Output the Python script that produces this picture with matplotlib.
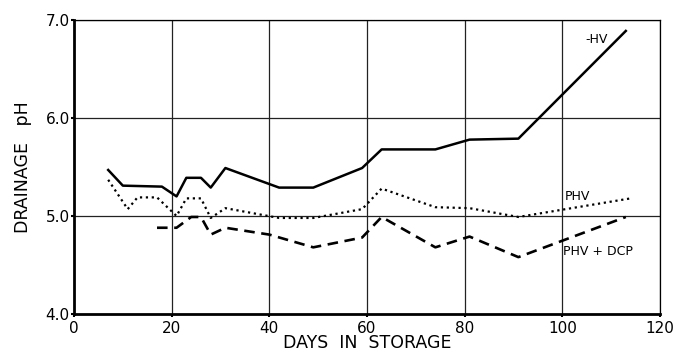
import matplotlib
matplotlib.use("Agg")
import matplotlib.pyplot as plt

# -HV (solid)
hv_days = [7, 10, 18, 21, 23, 26, 28, 31, 42, 49, 59, 63, 74, 81, 91, 113]
hv_ph = [5.47, 5.31, 5.30, 5.20, 5.39, 5.39, 5.29, 5.49, 5.29, 5.29, 5.49, 5.68, 5.68, 5.78, 5.79, 6.89]

# PHV (dotted)
phv_days = [7, 11, 13, 17, 21, 23, 26, 28, 31, 42, 49, 59, 63, 74, 81, 91, 114]
phv_ph = [5.37, 5.07, 5.19, 5.19, 5.00, 5.18, 5.18, 4.98, 5.08, 4.98, 4.98, 5.07, 5.28, 5.09, 5.08, 4.99, 5.18]

# PHV + DCP (dashed)
dcp_days = [17, 21, 24, 26, 28, 31, 40, 49, 59, 63, 74, 81, 91, 113]
dcp_ph = [4.88, 4.88, 4.99, 4.99, 4.81, 4.88, 4.81, 4.68, 4.78, 4.99, 4.68, 4.79, 4.58, 4.99]

x_ticks = [0, 20, 40, 60, 80, 100, 120]
y_ticks = [4.0, 5.0, 6.0, 7.0]

plt.rcParams["font.family"] = ["DejaVu Sans"]

fig = plt.figure(figsize=(6.79, 3.6), dpi=100)
ax = fig.add_axes([0.109, 0.128, 0.863, 0.816])

for x in x_ticks[1:]:
    ax.axvline(x, color="#222222", lw=0.9, zorder=1)
for y in y_ticks[1:]:
    ax.axhline(y, color="#222222", lw=0.9, zorder=1)

ax.plot(hv_days, hv_ph, "-", color="black", lw=1.8, zorder=3)
ax.plot(phv_days, phv_ph, ":", color="black", lw=1.6, zorder=3)
ax.plot(dcp_days, dcp_ph, "--", color="black", lw=1.9, dashes=(4, 2.5), zorder=3)

ax.text(107, 6.8, "-HV", fontsize=9, ha="center", va="center")
ax.text(103, 5.2, "PHV", fontsize=9, ha="center", va="center")
ax.text(107.3, 4.64, "PHV + DCP", fontsize=9, ha="center", va="center")

ax.set_xlim(0, 120)
ax.set_ylim(4.0, 7.0)
ax.set_xticks(x_ticks)
ax.set_yticks(y_ticks)
ax.set_xticklabels([str(v) for v in x_ticks], fontsize=11)
ax.set_yticklabels([f"{v:.1f}" for v in y_ticks], fontsize=11)
ax.tick_params(axis="x", length=2, width=1.5, direction="out", pad=3)
ax.tick_params(axis="y", length=2, width=1.5, direction="out", pad=1)

ax.spines["left"].set_linewidth(2.0)
ax.spines["bottom"].set_linewidth(2.0)
ax.spines["right"].set_linewidth(0.9)
ax.spines["top"].set_linewidth(0.9)

ax.set_xlabel("DAYS  IN  STORAGE", fontsize=12.5, labelpad=-1)
ax.set_ylabel("DRAINAGE   pH", fontsize=12.5, labelpad=10)

fig.savefig("out.png", dpi=100)
